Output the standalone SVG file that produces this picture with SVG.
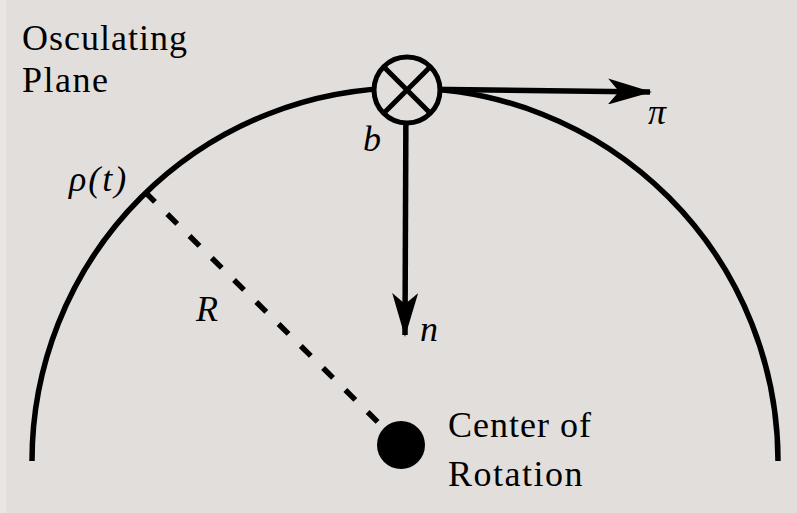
<svg xmlns="http://www.w3.org/2000/svg" width="797" height="513" viewBox="0 0 797 513">
  <defs>
    <marker id="stealth" viewBox="0 0 44 26" refX="42" refY="13" markerWidth="44" markerHeight="26" markerUnits="userSpaceOnUse" orient="auto">
      <path d="M0,0 L44,13 L0,26 L11,13 Z" fill="#000"/>
    </marker>
  </defs>

  <rect x="0" y="0" width="797" height="513" fill="#e2dedb"/>
  <rect x="0" y="0" width="6" height="513" fill="#e9e6e3"/>

  <g id="arc">
    <path d="M32,461 A373,373 0 0 1 778,461" fill="none" stroke="#000" stroke-width="5.5"/>
  </g>

  <g id="connectors">
    <line x1="145" y1="192" x2="401" y2="445" stroke="#000" stroke-width="5.5" stroke-dasharray="14 17.3"/>
    <line x1="407" y1="89" x2="650" y2="92" stroke="#000" stroke-width="5.5" marker-end="url(#stealth)"/>
    <line x1="406" y1="90" x2="405" y2="335" stroke="#000" stroke-width="5.5" marker-end="url(#stealth)"/>
  </g>

  <g id="binormal">
    <circle cx="407" cy="90" r="33" fill="#e2dedb" stroke="#000" stroke-width="5"/>
    <line x1="383.7" y1="66.7" x2="430.3" y2="113.3" stroke="#000" stroke-width="5"/>
    <line x1="430.3" y1="66.7" x2="383.7" y2="113.3" stroke="#000" stroke-width="5"/>
  </g>

  <g id="center">
    <circle cx="401" cy="445" r="24" fill="#000"/>
  </g>

  <text font-family="Liberation Serif" font-size="36" x="22" y="50" letter-spacing="1">Osculating</text>
  <text font-family="Liberation Serif" font-size="36" x="22" y="92" letter-spacing="1.5">Plane</text>
  <text font-family="Liberation Serif" font-size="36" x="448" y="437" letter-spacing="1">Center of</text>
  <text font-family="Liberation Serif" font-size="36" x="448" y="486" letter-spacing="1.5">Rotation</text>
  <text font-family="Liberation Serif" font-size="36" font-style="italic" x="69" y="191" letter-spacing="2">ρ(t)</text>
  <text font-family="Liberation Serif" font-size="36" font-style="italic" x="196" y="321">R</text>
  <text font-family="Liberation Serif" font-size="36" font-style="italic" x="363" y="151">b</text>
  <text font-family="Liberation Serif" font-size="36" font-style="italic" x="648" y="124">π</text>
  <text font-family="Liberation Serif" font-size="36" font-style="italic" x="420" y="341">n</text>
</svg>
